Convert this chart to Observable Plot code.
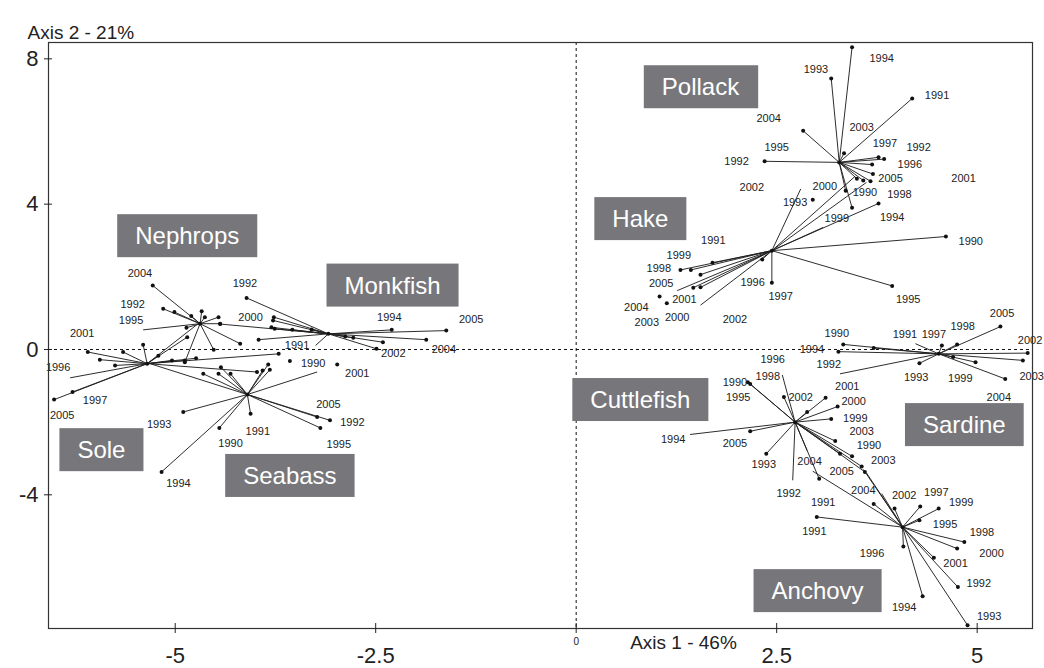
<!DOCTYPE html>
<html><head><meta charset="utf-8">
<script src="https://cdn.jsdelivr.net/npm/d3@7"></script>
<script src="https://cdn.jsdelivr.net/npm/@observablehq/plot@0.6"></script>
<style>body{margin:0;background:#fff;font-family:"Liberation Sans",Arial,sans-serif}</style>
</head><body>
<script>
const xTicks = [-5, -2.5, 0, 2.5, 5];
const yTicks = [-4, 0, 4, 8];
const speciesNames = ["Pollack","Hake","Sardine","Cuttlefish","Anchovy","Nephrops","Monkfish","Sole","Seabass"];
const centerX = [3.28, 2.44, 4.52, 2.73, 4.07, -4.69, -3.09, -5.35, -4.10];
const centerY = [5.15, 2.72, -0.12, -2.00, -4.89, 0.71, 0.43, -0.39, -1.24];
const boxX = [1.55, 0.80, 4.84, 0.80, 3.01, -4.85, -2.29, -5.92, -3.57];
const boxY = [7.21, 3.58, -2.09, -1.40, -6.66, 3.11, 1.75, -2.78, -3.49];

// year positions: [x, y, kind]  d = line+dot, l = line only, p = dot only
const pollack = [[3.44,8.32,"d"],[3.18,7.46,"d"],[4.19,6.91,"d"],[2.83,6.02,"d"],[2.35,5.18,"d"],[3.34,5.40,"d"],[3.77,5.29,"d"],[3.84,5.24,"d"],[3.69,5.09,"d"],[3.70,4.83,"d"],[3.67,4.63,"d"],[3.58,4.65,"d"],[3.36,4.37,"d"],[3.44,3.90,"d"],[3.50,4.70,"d"]];
const hake = [[4.61,3.11,"d"],[3.94,1.75,"d"],[2.44,1.84,"d"],[2.32,2.48,"d"],[1.30,2.19,"d"],[1.43,2.19,"d"],[1.70,2.39,"d"],[1.55,2.06,"d"],[1.46,1.70,"d"],[1.55,1.71,"d"],[1.26,1.62,"l"],[1.55,1.22,"l"],[2.80,4.42,"l"],[3.08,3.36,"l"],[3.48,4.77,"l"],[3.62,4.60,"l"],[3.77,4.02,"d"],[2.95,4.12,"p"],[1.04,1.46,"p"],[1.13,1.27,"p"]];
const sardine = [[3.33,0.14,"d"],[3.71,0.04,"d"],[3.27,-0.06,"d"],[3.29,-0.67,"l"],[4.28,-0.38,"d"],[4.56,0.11,"d"],[4.75,0.14,"d"],[5.29,0.63,"d"],[5.63,-0.10,"d"],[5.57,-0.30,"d"],[4.98,-0.35,"d"],[5.35,-0.81,"d"],[4.70,-0.21,"d"],[4.23,0.16,"l"]];
const cuttlefish = [[2.14,-0.90,"d"],[2.17,-0.95,"d"],[2.59,-1.31,"d"],[2.57,-0.70,"l"],[2.88,-1.72,"d"],[3.11,-1.33,"d"],[3.26,-1.57,"d"],[3.18,-1.91,"d"],[3.23,-2.52,"d"],[3.44,-2.94,"d"],[3.29,-2.87,"d"],[3.56,-3.22,"d"],[3.60,-3.37,"d"],[1.42,-2.34,"l"],[2.17,-2.25,"d"],[2.37,-2.87,"d"],[2.70,-3.60,"l"],[2.88,-2.78,"l"],[3.03,-3.56,"d"]];
const anchovy = [[3.00,-4.61,"d"],[3.71,-4.25,"d"],[3.97,-4.38,"d"],[3.81,-3.97,"l"],[4.29,-4.32,"d"],[4.52,-4.38,"d"],[4.28,-4.70,"d"],[4.84,-5.30,"d"],[4.75,-5.48,"d"],[4.46,-5.73,"d"],[4.76,-6.54,"d"],[4.32,-6.79,"d"],[4.88,-7.59,"d"],[4.08,-5.42,"d"],[3.58,-3.30,"l"],[3.62,-3.40,"l"],[2.95,-3.35,"l"]];
const nephrops = [[-5.28,1.76,"d"],[-5.15,1.12,"d"],[-5.01,1.03,"d"],[-4.67,1.05,"d"],[-4.63,0.89,"d"],[-4.46,0.89,"d"],[-4.44,0.71,"d"],[-5.40,0.54,"l"],[-4.86,0.60,"d"],[-4.52,-0.01,"d"],[-4.19,0.16,"d"],[-4.88,-0.35,"d"],[-4.80,0.92,"d"]];
const monkfish = [[-4.11,1.42,"d"],[-3.77,0.89,"d"],[-3.78,0.80,"d"],[-3.80,0.61,"d"],[-3.76,0.57,"d"],[-3.54,0.54,"d"],[-3.96,0.27,"d"],[-2.30,0.54,"d"],[-1.62,0.52,"d"],[-1.87,0.27,"d"],[-2.41,0.20,"d"],[-2.49,0.02,"d"],[-3.25,0.11,"l"],[-4.44,0.70,"d"],[-2.88,0.36,"d"],[-2.78,0.32,"d"],[-3.30,0.55,"d"]];
const sole = [[-6.09,-0.07,"d"],[-5.94,-0.28,"d"],[-5.65,-0.07,"d"],[-5.75,-0.44,"d"],[-6.31,-0.78,"l"],[-6.28,-1.17,"d"],[-6.51,-1.38,"d"],[-5.40,0.13,"d"],[-5.21,-0.17,"d"],[-4.85,0.34,"d"],[-5.04,-0.30,"d"],[-4.88,-0.30,"d"],[-4.74,-0.24,"d"],[-3.71,-0.12,"d"],[-3.98,-0.62,"d"],[-4.72,0.70,"l"]];
const seabass = [[-4.90,-1.72,"d"],[-4.45,-2.16,"d"],[-5.17,-3.37,"d"],[-4.06,-1.77,"d"],[-3.84,-0.41,"d"],[-3.91,-0.58,"d"],[-3.82,-0.56,"d"],[-4.31,-0.67,"d"],[-4.46,-0.67,"d"],[-4.43,-0.49,"d"],[-4.65,-0.67,"d"],[-5.30,-0.40,"l"],[-3.23,-1.86,"d"],[-3.07,-1.95,"d"],[-3.19,-2.16,"d"],[-3.23,-0.62,"l"],[-3.57,-0.32,"p"],[-2.98,-0.41,"p"]];
const speciesPoints = [pollack, hake, sardine, cuttlefish, anchovy, nephrops, monkfish, sole, seabass];

const yearLabels = [
 ["1994",3.81,8.00],["1993",2.99,7.72],["1991",4.50,6.99],["2004",2.40,6.35],["2003",3.56,6.12],["1995",2.50,5.57],["1997",3.85,5.66],["1992",4.27,5.55],["1992",2.00,5.17],["1996",4.16,5.09],["2005",3.92,4.71],["2001",4.83,4.72],["1990",3.60,4.31],["1998",4.03,4.28],
 ["2002",2.19,4.47],["2000",3.10,4.49],["1993",2.73,4.05],["1999",3.25,3.60],["1994",3.94,3.64],["1990",4.92,2.98],["1995",4.14,1.39],["1997",2.55,1.47],["1996",2.20,1.85],["1991",1.71,3.00],["1999",1.28,2.59],["1998",1.03,2.22],["2005",1.06,1.81],["2001",1.35,1.37],["2004",0.75,1.15],["2003",0.88,0.75],["2000",1.26,0.89],["2002",1.98,0.84],
 ["1990",3.25,0.43],["1994",2.94,-0.01],["1992",3.15,-0.41],["1991",4.10,0.40],["1997",4.46,0.40],["1998",4.82,0.63],["2005",5.31,1.00],["2002",5.66,0.25],["2003",5.68,-0.74],["1993",4.24,-0.76],["1999",4.79,-0.81],["2004",5.27,-1.31],
 ["1996",2.45,-0.28],["1998",2.39,-0.74],["1990",1.98,-0.90],["1995",2.02,-1.33],["2002",2.80,-1.33],["2001",3.38,-1.02],["2000",3.46,-1.42],["1999",3.48,-1.91],["2003",3.56,-2.27],["1990",3.65,-2.64],["2003",3.83,-3.05],["1994",1.21,-2.48],["2005",1.98,-2.59],["1993",2.34,-3.17],["2004",2.91,-3.07],["2005",3.31,-3.37],["1992",2.65,-3.97],["2004",3.58,-3.88],["1991",3.08,-4.20],
 ["2002",4.09,-4.02],["1997",4.49,-3.94],["1999",4.80,-4.20],["1995",4.60,-4.81],["1998",5.06,-5.04],["2000",5.18,-5.62],["2001",4.73,-5.88],["1996",3.69,-5.62],["1992",5.02,-6.45],["1994",4.09,-7.11],["1993",5.15,-7.34],["1991",2.97,-5.00],
 ["2004",-5.44,2.08],["1992",-5.53,1.23],["1995",-5.55,0.80],["2001",-6.16,0.43],["1996",-6.46,-0.50],["1997",-6.00,-1.40],["2005",-6.41,-1.82],["1993",-5.20,-2.06],["1994",-4.96,-3.68],["1990",-4.31,-2.58],["1991",-3.97,-2.25],
 ["1992",-4.13,1.82],["2000",-4.06,0.89],["1994",-2.33,0.89],["2005",-1.31,0.83],["1991",-3.48,0.11],["2002",-2.28,-0.10],["2004",-1.65,-0.01],["1990",-3.28,-0.38],["2001",-2.73,-0.65],["2005",-3.09,-1.51],["1992",-2.79,-2.02],["1995",-2.96,-2.61]
];

const links = [], dots = [];
speciesPoints.forEach((pts, i) => {
  dots.push({x: centerX[i], y: centerY[i]});
  pts.forEach(([x, y, k]) => {
    if (k !== "p") links.push({x1: centerX[i], y1: centerY[i], x2: x, y2: y});
    if (k !== "l") dots.push({x, y});
  });
});
const speciesLabels = speciesNames.map((s, i) => ({s, x: boxX[i], y: boxY[i]}));

const svg = Plot.plot({
  width: 1044, height: 668,
  marginLeft: 48, marginRight: 12, marginTop: 42, marginBottom: 40,
  style: {fontFamily: '"Liberation Sans", Arial, sans-serif', background: "#fff", color: "#222"},
  x: {domain: [-6.58, 5.69], range: [48, 1032]},
  y: {domain: [-7.68, 8.45], range: [628, 42]},
  marks: [
    Plot.ruleX([0], {stroke: "#111", strokeWidth: 1, strokeDasharray: "3,3"}),
    Plot.ruleY([0], {stroke: "#111", strokeWidth: 1, strokeDasharray: "3,3"}),
    Plot.link(links, {x1: "x1", y1: "y1", x2: "x2", y2: "y2", stroke: "#222", strokeWidth: 0.95}),
    Plot.dot(dots, {x: "x", y: "y", r: 2, fill: "#111", stroke: null}),
    Plot.text(yearLabels, {x: d => d[1], y: d => d[2], text: d => d[0], fontSize: 11, fill: "#222"}),
    Plot.text(speciesLabels, {x: "x", y: "y", text: "s", fontSize: 24, fill: "#fff"}),
    Plot.frame({stroke: "#333", strokeWidth: 1.2}),
    Plot.axisY({ticks: yTicks, tickSize: 4, tickPadding: 6, fontSize: 22, label: null, tickFormat: d => String(d)}),
    Plot.axisY({ticks: yTicks, tickSize: -4, label: null, tickFormat: () => ""}),
    Plot.axisX({ticks: xTicks, tickSize: 5, tickPadding: 14, fontSize: 22, label: null, tickFormat: d => d === 0 ? "" : String(d)}),
    Plot.axisX({ticks: xTicks, tickSize: -5, label: null, tickFormat: () => ""}),
    Plot.text([0], {x: d => d, frameAnchor: "bottom", dy: 16, text: d => String(d), fontSize: 10, fill: "#222"}),
    Plot.text(["Axis 1 - 46%"], {frameAnchor: "bottom", dx: 143, dy: 20, fontSize: 19, fill: "#222"}),
    Plot.text(["Axis 2 - 21%"], {frameAnchor: "top-left", dx: -21, dy: -17, textAnchor: "start", fontSize: 19, fill: "#222"})
  ]
});
document.body.append(svg);

// grey boxes behind species names
const names = new Set(speciesNames);
svg.querySelectorAll("text").forEach(t => {
  if (!names.has(t.textContent)) return;
  const b = t.getBBox();
  const padX = 18, h = 43;
  const r = document.createElementNS("http://www.w3.org/2000/svg", "rect");
  r.setAttribute("x", b.x - padX);
  r.setAttribute("y", b.y + b.height / 2 - h / 2);
  r.setAttribute("width", b.width + 2 * padX);
  r.setAttribute("height", h);
  r.setAttribute("fill", "#77777b");
  const tr = t.getAttribute("transform");
  if (tr) r.setAttribute("transform", tr);
  t.parentNode.insertBefore(r, t);
});
</script>
</body></html>
